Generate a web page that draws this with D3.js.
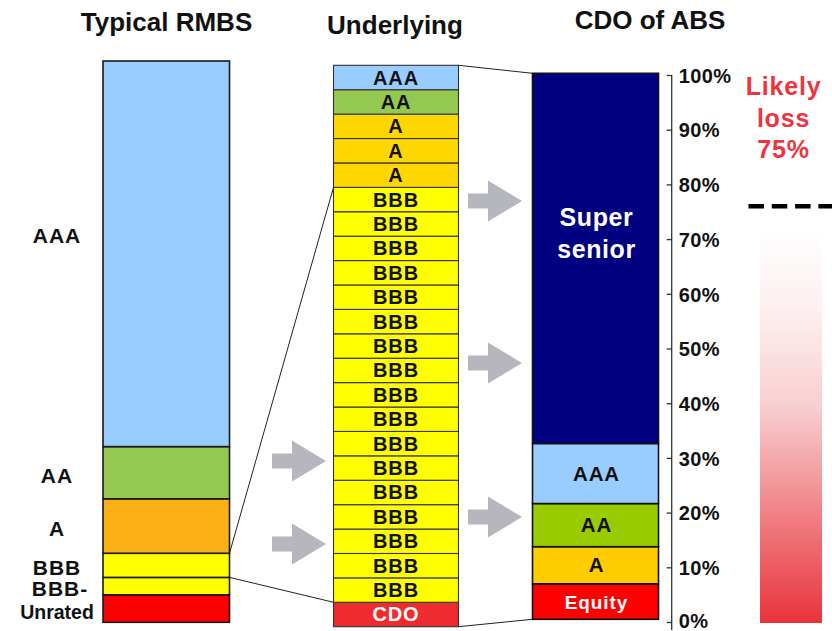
<!DOCTYPE html>
<html><head><meta charset="utf-8">
<script src="https://cdn.jsdelivr.net/npm/d3@7"></script>
<style>body{margin:0;background:#fff}svg{display:block}</style>
</head><body>
<script>
// ---------- DATA ----------
const panelTitles = ["Typical RMBS", "Underlying", "CDO of ABS"];

// Typical RMBS capital structure (bottom to top), % of deal
const rmbsTranches = ["Unrated", "BBB-", "BBB", "A", "AA", "AAA"];
const rmbsShares   = [4.9, 3.1, 4.3, 9.7, 9.3, 68.7];

// Underlying collateral pool of the CDO (bottom to top), one unit per bond
const poolTranches = ["CDO",
  "BBB","BBB","BBB","BBB","BBB","BBB","BBB","BBB","BBB",
  "BBB","BBB","BBB","BBB","BBB","BBB","BBB","BBB",
  "A","A","A","AA","AAA"];
const poolShares = [1,
  1,1,1,1,1,1,1,1,1,
  1,1,1,1,1,1,1,1,
  1,1,1,1,1];

// CDO of ABS capital structure (bottom to top), % of deal
const cdoTranches = ["Equity", "A", "AA", "AAA", "Super senior"];
const cdoShares   = [6.5, 6.8, 7.9, 11.0, 67.8];

const axisTicks = [0, 10, 20, 30, 40, 50, 60, 70, 80, 90, 100];
const likelyLossLabel = ["Likely", "loss", "75%"];
const likelyLossLevel = 76;   // where the dashed line sits on the % axis

// ---------- STYLES ----------
const rmbsColor = {"Unrated":"#ff0000","BBB-":"#ffff00","BBB":"#ffff00","A":"#fbb116","AA":"#94c851","AAA":"#99ccff"};
const poolColor = {"CDO":"#ee2b2e","BBB":"#ffff00","A":"#ffd700","AA":"#94c851","AAA":"#99ccff"};
const cdoColor  = {"Equity":"#ff0000","A":"#ffcc00","AA":"#99cc00","AAA":"#99ccff","Super senior":"#000080"};
const whiteText = new Set(["CDO","Equity","Super senior"]);
const FONT = "'Liberation Sans', Arial, Helvetica, sans-serif";

const W = 832, H = 631;
const svg = d3.select("body").append("svg").attr("width", W).attr("height", H)
  .style("font-family", FONT);

function stackOf(names, vals) {
  let acc = 0;
  return names.map((n, i) => { const d = {name: n, y0: acc, y1: acc + vals[i], i}; acc += vals[i]; return d; });
}

// ---------- SCALES ----------
const xRmbs = d3.scaleBand().domain([panelTitles[0]]).range([103, 229.5]);
const xPool = d3.scaleBand().domain([panelTitles[1]]).range([333.5, 458.5]);
const xCdo  = d3.scaleBand().domain([panelTitles[2]]).range([532.5, 658.5]);
const yRmbs = d3.scaleLinear().domain([0, d3.sum(rmbsShares)]).range([622.3, 61]);
const yPool = d3.scaleLinear().domain([0, d3.sum(poolShares)]).range([626.7, 65.3]);
const yCdo  = d3.scaleLinear().domain([0, d3.sum(cdoShares)]).range([619.3, 73.3]);
const yAxisScale = d3.scaleLinear().domain([0, 100]).range([622, 75]);

// ---------- ARROWS & CONNECTORS (behind) ----------
function arrowPath(x0, yc) {
  const p = d3.path();
  p.moveTo(x0, yc - 7.5); p.lineTo(x0 + 20, yc - 7.5); p.lineTo(x0 + 20, yc - 20.5);
  p.lineTo(x0 + 54, yc); p.lineTo(x0 + 20, yc + 20.5); p.lineTo(x0 + 20, yc + 7.5);
  p.lineTo(x0, yc + 7.5); p.closePath();
  return p.toString();
}
const arrows = [[272, 461], [272, 544], [468, 201], [468, 363], [468, 517]];
svg.append("g").selectAll("path").data(arrows).join("path")
  .attr("d", d => arrowPath(d[0], d[1])).attr("fill", "#b6b6be");

const rStack = stackOf(rmbsTranches, rmbsShares);
const pStack = stackOf(poolTranches, poolShares);
const cStack = stackOf(cdoTranches, cdoShares);
const rBBB = rStack.find(d => d.name === "BBB");
const pCDO = pStack.find(d => d.name === "CDO");
const pBBBtop = d3.max(pStack.filter(d => d.name === "BBB"), d => d.y1);
const connectors = [
  [xRmbs.range()[1], yRmbs(rBBB.y1), xPool.range()[0], yPool(pBBBtop)],
  [xRmbs.range()[1], yRmbs(rBBB.y0), xPool.range()[0], yPool(pCDO.y1)],
  [xPool.range()[1], yPool(d3.sum(poolShares)), xCdo.range()[0], yCdo(d3.sum(cdoShares))],
  [xPool.range()[1], yPool(0), xCdo.range()[0], yCdo(0)]
];
svg.append("g").selectAll("line").data(connectors).join("line")
  .attr("x1", d => d[0]).attr("y1", d => d[1]).attr("x2", d => d[2]).attr("y2", d => d[3])
  .attr("stroke", "#222").attr("stroke-width", 1);

// ---------- BARS ----------
function drawBar(stack, xs, ys, colors, strokeW, strokeC) {
  const g = svg.append("g");
  const key = xs.domain()[0];
  g.selectAll("rect").data(stack).join("rect")
    .attr("x", xs(key)).attr("width", xs.bandwidth())
    .attr("y", d => ys(d.y1)).attr("height", d => ys(d.y0) - ys(d.y1))
    .attr("fill", d => colors[d.name]).attr("stroke", strokeC).attr("stroke-width", strokeW);
  return g;
}
drawBar(rStack, xRmbs, yRmbs, rmbsColor, 1.6, "#1a1a1a");
const gPool = drawBar(pStack, xPool, yPool, poolColor, 1.1, "#333");
const gCdo = drawBar(cStack, xCdo, yCdo, cdoColor, 1.6, "#111");

// RMBS labels (left of bar); the tall AAA label sits in the upper part of its block
svg.append("g").selectAll("text").data(rStack).join("text")
  .attr("x", d => d.name === "BBB-" ? 60 : 57)
  .attr("y", d => (d.y1 - d.y0 > 50 ? yRmbs(d.y1 - (d.y1 - d.y0) * 0.455) : yRmbs((d.y0 + d.y1) / 2) + 3) + 7)
  .attr("text-anchor", "middle").attr("font-weight", "bold")
  .attr("font-size", d => d.name === "Unrated" ? 19.5 : 21)
  .attr("letter-spacing", d => d.name === "Unrated" ? 0 : 1)
  .attr("fill", "#111").text(d => d.name);

// Pool labels (inside cells)
gPool.selectAll("text").data(pStack).join("text")
  .attr("x", xPool(panelTitles[1]) + xPool.bandwidth() / 2)
  .attr("y", d => yPool((d.y0 + d.y1) / 2) + 7)
  .attr("text-anchor", "middle").attr("font-weight", "bold").attr("font-size", 20)
  .attr("letter-spacing", 0.9)
  .attr("fill", d => whiteText.has(d.name) ? "#fff" : "#111").text(d => d.name);

// CDO labels (inside)
const cx = xCdo(panelTitles[2]) + xCdo.bandwidth() / 2;
cStack.forEach(d => {
  const words = d.name.split(" ");
  const mid = yCdo((d.y0 + d.y1) / 2);
  const big = words.length > 1;
  const t = gCdo.append("text").attr("text-anchor", "middle").attr("font-weight", "bold")
    .attr("font-size", big ? 25 : (d.name === "Equity" ? 19 : 20.5))
    .attr("letter-spacing", big ? 0.6 : 0.9)
    .attr("fill", whiteText.has(d.name) ? "#fff" : "#111");
  words.forEach((w, k) => {
    t.append("tspan").attr("x", cx + 1)
      .attr("y", big ? mid - 32 + k * 31.5 : mid + 7).text(w);
  });
});

// ---------- AXIS ----------
const axisG = svg.append("g").attr("transform", "translate(671.7,0)")
  .call(d3.axisRight(yAxisScale).tickValues(axisTicks).tickFormat(d => d + "%")
    .tickSizeInner(-5).tickSizeOuter(0).tickPadding(7));
axisG.select(".domain").remove();
axisG.append("line").attr("x1", 0).attr("x2", 0).attr("y1", yAxisScale(100)).attr("y2", 630)
  .attr("stroke", "#333").attr("stroke-width", 1.3);
axisG.selectAll(".tick line").attr("stroke", "#333").attr("stroke-width", 1.3);
axisG.selectAll(".tick text").attr("font-family", FONT).attr("font-size", 20)
  .attr("font-weight", "bold").attr("fill", "#111").attr("letter-spacing", 0.4)
  .attr("dy", d => d === 0 ? "0.28em" : "0.36em");

// ---------- TITLES ----------
const titleX = [166.5, 395, 650];
const titleY = [31, 34, 28.5];
svg.append("g").selectAll("text").data(panelTitles).join("text")
  .attr("x", (d, i) => titleX[i]).attr("y", (d, i) => titleY[i])
  .attr("text-anchor", "middle").attr("font-weight", "bold").attr("font-size", 26)
  .attr("fill", "#111").text(d => d);

// ---------- LIKELY LOSS ----------
const defs = svg.append("defs");
const grad = defs.append("linearGradient").attr("id", "lossGrad")
  .attr("x1", 0).attr("y1", 0).attr("x2", 0).attr("y2", 1);
[[0, "#ffffff"], [0.2, "#fdf0f0"], [0.45, "#f8cfd1"], [0.72, "#f08286"], [1, "#e9333b"]]
  .forEach(s => grad.append("stop").attr("offset", s[0]).attr("stop-color", s[1]));
svg.append("rect").attr("x", 760).attr("width", 62)
  .attr("y", 228).attr("height", yAxisScale(0) + 1 - 228).attr("fill", "url(#lossGrad)");

svg.append("line").attr("x1", 748.5).attr("x2", W)
  .attr("y1", yAxisScale(likelyLossLevel)).attr("y2", yAxisScale(likelyLossLevel))
  .attr("stroke", "#000").attr("stroke-width", 4.5).attr("stroke-dasharray", "15.5,7.8");

svg.append("g").selectAll("text").data(likelyLossLabel).join("text")
  .attr("x", 783.5).attr("y", (d, i) => 95 + i * 31.7)
  .attr("text-anchor", "middle").attr("font-weight", "bold").attr("font-size", 25)
  .attr("letter-spacing", 0.8)
  .attr("fill", "#f0343f").text(d => d);
</script>
</body></html>
